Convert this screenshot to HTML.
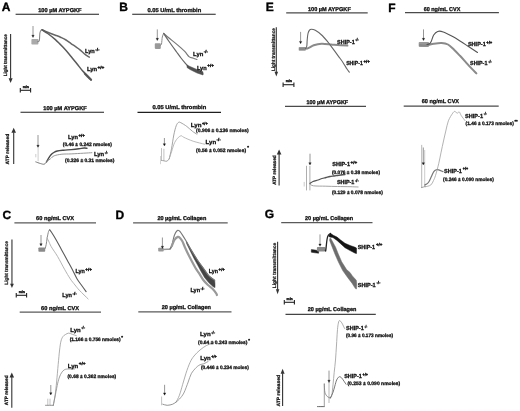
<!DOCTYPE html>
<html><head><meta charset="utf-8"><style>
html,body{margin:0;padding:0;background:#fff;width:520px;height:411px;overflow:hidden}
svg{display:block;font-family:"Liberation Sans", sans-serif;text-rendering:geometricPrecision;filter:grayscale(1) blur(0.3px)}
</style></head><body>
<svg width="520" height="411" viewBox="0 0 520 411">
<rect width="520" height="411" fill="#fff"/>
<rect x="31.4" y="39" width="7.0" height="5.5" rx="0.8" fill="#aaa"/>
<path d="M37.50,41.80 C37.80,41.58 38.90,41.97 39.30,40.50 C39.70,39.03 39.62,34.70 39.90,33.00 C40.18,31.30 40.63,30.83 41.00,30.30 C41.37,29.77 41.92,29.88 42.10,29.80" stroke="#888" stroke-width="1.1" fill="none" stroke-linejoin="round" stroke-linecap="round"/>
<path d="M42.10,29.80 C43.03,30.20 45.48,31.30 47.70,32.20 C49.92,33.10 53.18,34.32 55.40,35.20 C57.62,36.08 59.23,36.70 61.00,37.50 C62.77,38.30 64.33,38.98 66.00,40.00 C67.67,41.02 69.42,42.50 71.00,43.60 C72.58,44.70 74.00,45.57 75.50,46.60 C77.00,47.63 78.50,48.57 80.00,49.80 C81.50,51.03 82.95,52.77 84.50,54.00 C86.05,55.23 88.50,56.67 89.30,57.20" stroke="#666" stroke-width="1.5" fill="none" stroke-linejoin="round" stroke-linecap="round"/>
<path d="M42.10,29.80 C43.03,30.42 45.48,31.87 47.70,33.50 C49.92,35.13 52.83,37.30 55.40,39.60 C57.97,41.90 60.80,44.87 63.10,47.30 C65.40,49.73 66.93,51.50 69.20,54.20 C71.47,56.90 74.48,60.73 76.70,63.50 C78.92,66.27 80.88,68.93 82.50,70.80 C84.12,72.67 84.93,73.17 86.40,74.70 C87.87,76.23 90.48,79.12 91.30,80.00" stroke="#5a5a5a" stroke-width="1.5" fill="none" stroke-linejoin="round" stroke-linecap="round"/>
<path d="M84.50,72.20 L88.00,75.60 L91.80,79.30 L91.00,80.80 L88.00,78.20 L84.00,74.00 Z" fill="#555" stroke="#555" stroke-width="0.5" stroke-linejoin="round"/>
<rect x="154.8" y="43.3" width="6.0" height="5.600000000000001" rx="0.8" fill="#999"/>
<path d="M160.00,45.50 C160.25,45.25 161.12,45.42 161.50,44.00 C161.88,42.58 161.93,38.77 162.30,37.00 C162.67,35.23 163.47,34.00 163.70,33.40" stroke="#888" stroke-width="1.0" fill="none" stroke-linejoin="round" stroke-linecap="round"/>
<path d="M163.70,33.40 C164.53,34.13 166.55,36.02 168.70,37.80 C170.85,39.58 173.97,41.87 176.60,44.10 C179.23,46.33 182.38,49.07 184.50,51.20 C186.62,53.33 187.80,55.73 189.30,56.90 C190.80,58.07 192.23,57.77 193.50,58.20 C194.77,58.63 196.33,59.28 196.90,59.50" stroke="#777" stroke-width="1.2" fill="none" stroke-linejoin="round" stroke-linecap="round"/>
<path d="M163.70,33.40 C164.53,34.67 166.55,37.90 168.70,41.00 C170.85,44.10 174.55,49.17 176.60,52.00 C178.65,54.83 179.60,56.18 181.00,58.00 C182.40,59.82 183.62,61.30 185.00,62.90 C186.38,64.50 187.88,66.40 189.30,67.60 C190.72,68.80 192.08,69.47 193.50,70.10 C194.92,70.73 196.23,70.77 197.80,71.40 C199.37,72.03 202.05,73.48 202.90,73.90" stroke="#666" stroke-width="1.2" fill="none" stroke-linejoin="round" stroke-linecap="round"/>
<path d="M187.00,65.00 L190.00,66.50 L197.00,69.50 L203.00,71.80 L203.00,75.00 L197.00,73.00 L190.00,69.50 L187.00,67.50 Z" fill="#505050" stroke="#505050" stroke-width="0.5" stroke-linejoin="round"/>
<rect x="298.7" y="46.9" width="7.100000000000023" height="3.8999999999999986" rx="0.8" fill="#999"/>
<path d="M300.00,49.00 C301.23,48.92 305.12,49.12 307.40,48.50 C309.68,47.88 311.33,46.10 313.70,45.30 C316.07,44.50 318.70,43.83 321.60,43.70 C324.50,43.57 328.98,44.32 331.10,44.50 C333.22,44.68 331.58,44.62 334.30,44.80 C337.02,44.98 345.22,45.47 347.40,45.60" stroke="#8a8a8a" stroke-width="2.0" fill="none" stroke-linejoin="round" stroke-linecap="round"/>
<path d="M305.50,48.50 C305.72,48.08 306.52,47.42 306.80,46.00 C307.08,44.58 307.00,42.08 307.20,40.00 C307.40,37.92 307.62,35.13 308.00,33.50 C308.38,31.87 308.95,30.92 309.50,30.20 C310.05,29.48 310.33,29.18 311.30,29.20 C312.27,29.22 313.58,29.33 315.30,30.30 C317.02,31.27 319.48,33.03 321.60,35.00 C323.72,36.97 326.43,40.25 328.00,42.10 C329.57,43.95 329.25,43.73 331.00,46.10 C332.75,48.47 336.53,53.62 338.50,56.30 C340.47,58.98 341.38,60.08 342.80,62.20 C344.22,64.32 345.92,67.33 347.00,69.00 C348.08,70.67 348.92,71.67 349.30,72.20" stroke="#666" stroke-width="1.1" fill="none" stroke-linejoin="round" stroke-linecap="round"/>
<rect x="418.7" y="42.1" width="10.300000000000011" height="4.799999999999997" rx="0.8" fill="#999"/>
<path d="M420.00,45.00 C421.00,45.08 423.72,45.72 426.00,45.50 C428.28,45.28 431.10,44.13 433.70,43.70 C436.30,43.27 439.22,42.77 441.60,42.90 C443.98,43.03 445.88,43.32 448.00,44.50 C450.12,45.68 452.30,48.12 454.30,50.00 C456.30,51.88 458.13,53.83 460.00,55.80 C461.87,57.77 463.67,59.78 465.50,61.80 C467.33,63.82 469.18,65.97 471.00,67.90 C472.82,69.83 475.50,72.48 476.40,73.40" stroke="#8a8a8a" stroke-width="2.0" fill="none" stroke-linejoin="round" stroke-linecap="round"/>
<path d="M427.00,44.50 C427.42,44.38 428.78,44.33 429.50,43.80 C430.22,43.27 430.60,42.77 431.30,41.30 C432.00,39.83 432.63,36.65 433.70,35.00 C434.77,33.35 436.12,31.92 437.70,31.40 C439.28,30.88 440.70,31.03 443.20,31.90 C445.70,32.77 449.90,35.08 452.70,36.60 C455.50,38.12 457.50,39.43 460.00,41.00 C462.50,42.57 464.78,44.08 467.70,46.00 C470.62,47.92 475.87,51.42 477.50,52.50" stroke="#555" stroke-width="1.1" fill="none" stroke-linejoin="round" stroke-linecap="round"/>
<line x1="38.1" y1="148" x2="38.1" y2="161.2" stroke="#aaa" stroke-width="0.6"/>
<line x1="35.8" y1="154" x2="35.8" y2="157.3" stroke="#aaa" stroke-width="0.6"/>
<path d="M35.80,161.90 C36.57,162.17 39.00,163.12 40.40,163.50 C41.80,163.88 43.18,164.47 44.20,164.20 C45.22,163.93 46.12,162.28 46.50,161.90" stroke="#777" stroke-width="1.0" fill="none" stroke-linejoin="round" stroke-linecap="round"/>
<path d="M46.50,161.90 C46.83,161.30 47.75,159.48 48.50,158.30 C49.25,157.12 50.12,155.77 51.00,154.80 C51.88,153.83 52.75,153.13 53.80,152.50 C54.85,151.87 55.68,151.38 57.30,151.00 C58.92,150.62 61.18,150.43 63.50,150.20 C65.82,149.97 68.65,149.83 71.20,149.60 C73.75,149.37 76.63,149.07 78.80,148.80 C80.97,148.53 82.85,148.08 84.20,148.00 C85.55,147.92 86.45,148.25 86.90,148.30" stroke="#4a4a4a" stroke-width="1.4" fill="none" stroke-linejoin="round" stroke-linecap="round"/>
<path d="M46.50,161.90 C47.15,161.38 49.12,159.82 50.40,158.80 C51.68,157.78 52.28,156.57 54.20,155.80 C56.12,155.03 59.07,154.52 61.90,154.20 C64.73,153.88 67.60,154.07 71.20,153.90 C74.80,153.73 80.05,153.40 83.50,153.20 C86.95,153.00 90.50,152.78 91.90,152.70" stroke="#999" stroke-width="1.0" fill="none" stroke-linejoin="round" stroke-linecap="round"/>
<line x1="161.5" y1="148.1" x2="161.5" y2="160.4" stroke="#999" stroke-width="0.6"/>
<line x1="163.9" y1="148.8" x2="163.9" y2="160.4" stroke="#999" stroke-width="0.6"/>
<line x1="160.5" y1="156" x2="160.5" y2="164.2" stroke="#aaa" stroke-width="0.5"/>
<path d="M161.50,160.40 C161.92,160.47 163.10,160.67 164.00,160.80 C164.90,160.93 166.03,161.53 166.90,161.20 C167.77,160.87 168.82,159.20 169.20,158.80" stroke="#888" stroke-width="0.8" fill="none" stroke-linejoin="round" stroke-linecap="round"/>
<path d="M169.20,158.80 C169.58,157.13 170.73,152.77 171.50,148.80 C172.27,144.83 173.02,138.83 173.80,135.00 C174.58,131.17 175.42,127.90 176.20,125.80 C176.98,123.70 177.73,122.92 178.50,122.40 C179.27,121.88 179.40,122.02 180.80,122.70 C182.20,123.38 184.98,125.08 186.90,126.50 C188.82,127.92 190.63,129.92 192.30,131.20 C193.97,132.48 196.13,133.70 196.90,134.20" stroke="#999" stroke-width="0.9" fill="none" stroke-linejoin="round" stroke-linecap="round"/>
<path d="M169.20,158.80 C169.58,157.65 170.60,154.58 171.50,151.90 C172.40,149.22 173.43,145.13 174.60,142.70 C175.77,140.27 177.35,138.45 178.50,137.30 C179.65,136.15 180.62,135.80 181.50,135.80 C182.38,135.80 181.87,136.40 183.80,137.30 C185.73,138.20 189.63,140.05 193.10,141.20 C196.57,142.35 202.68,143.70 204.60,144.20" stroke="#aaa" stroke-width="0.8" fill="none" stroke-linejoin="round" stroke-linecap="round"/>
<line x1="306.5" y1="165.8" x2="306.5" y2="190.4" stroke="#999" stroke-width="0.8"/>
<line x1="309.9" y1="165.8" x2="309.9" y2="190.4" stroke="#999" stroke-width="0.8"/>
<line x1="304.2" y1="181.9" x2="304.2" y2="186.5" stroke="#aaa" stroke-width="0.6"/>
<path d="M309.90,183.50 C310.42,183.17 311.65,182.08 313.00,181.50 C314.35,180.92 316.50,180.50 318.00,180.00 C319.50,179.50 320.67,178.92 322.00,178.50 C323.33,178.08 324.67,177.83 326.00,177.50 C327.33,177.17 328.67,176.75 330.00,176.50 C331.33,176.25 332.75,176.17 334.00,176.00 C335.25,175.83 336.33,175.67 337.50,175.50 C338.67,175.33 339.75,175.17 341.00,175.00 C342.25,174.83 344.33,174.58 345.00,174.50" stroke="#555" stroke-width="1.3" fill="none" stroke-linejoin="round" stroke-linecap="round"/>
<path d="M309.90,184.00 C310.50,184.30 310.85,185.43 313.50,185.80 C316.15,186.17 321.80,186.08 325.80,186.20 C329.80,186.32 333.47,186.42 337.50,186.50 C341.53,186.58 346.57,186.62 350.00,186.70 C353.43,186.78 356.75,186.95 358.10,187.00" stroke="#999" stroke-width="0.9" fill="none" stroke-linejoin="round" stroke-linecap="round"/>
<line x1="421.7" y1="144.9" x2="421.7" y2="188" stroke="#999" stroke-width="0.7"/>
<line x1="424.7" y1="150" x2="424.7" y2="187" stroke="#aaa" stroke-width="0.6"/>
<path d="M421.70,187.50 C422.30,187.33 424.70,186.67 425.30,186.50" stroke="#888" stroke-width="0.8" fill="none" stroke-linejoin="round" stroke-linecap="round"/>
<path d="M424.80,185.00 C425.40,184.58 427.30,183.92 428.40,182.50 C429.50,181.08 430.50,178.32 431.40,176.50 C432.30,174.68 432.98,172.72 433.80,171.60 C434.62,170.48 435.48,170.10 436.30,169.80 C437.12,169.50 437.58,169.50 438.70,169.80 C439.82,170.10 442.28,171.30 443.00,171.60" stroke="#777" stroke-width="1.2" fill="none" stroke-linejoin="round" stroke-linecap="round"/>
<path d="M425.30,186.80 C426.22,186.50 429.43,186.05 430.80,185.00 C432.17,183.95 432.72,182.08 433.50,180.50 C434.28,178.92 434.63,178.30 435.50,175.50 C436.37,172.70 437.77,167.58 438.70,163.70 C439.63,159.82 440.30,155.98 441.10,152.20 C441.90,148.42 442.72,144.53 443.50,141.00 C444.28,137.47 444.98,134.37 445.80,131.00 C446.62,127.63 447.25,123.77 448.40,120.80 C449.55,117.83 451.62,114.77 452.70,113.20 C453.78,111.63 454.17,111.40 454.90,111.40 C455.63,111.40 456.37,113.10 457.10,113.20 C457.83,113.30 458.61,111.60 459.30,112.00 C459.99,112.40 460.30,114.17 461.25,115.60 C462.20,117.03 464.38,119.77 465.00,120.60" stroke="#a0a0a0" stroke-width="0.8" fill="none" stroke-linejoin="round" stroke-linecap="round"/>
<rect x="38.4" y="247.4" width="6.800000000000004" height="4.400000000000006" rx="0.8" fill="#8a8a8a"/>
<path d="M45.20,248.40 C45.37,247.75 45.87,246.28 46.20,244.50 C46.53,242.72 46.80,239.90 47.20,237.70 C47.60,235.50 48.20,232.60 48.60,231.30 C49.00,230.00 49.43,230.13 49.60,229.90" stroke="#888" stroke-width="1.0" fill="none" stroke-linejoin="round" stroke-linecap="round"/>
<path d="M49.60,229.90 C49.92,230.30 50.40,230.62 51.50,232.30 C52.60,233.98 54.53,237.10 56.20,240.00 C57.87,242.90 59.63,246.30 61.50,249.70 C63.37,253.10 65.62,257.15 67.40,260.40 C69.18,263.65 70.58,266.12 72.20,269.20 C73.82,272.28 75.63,276.35 77.10,278.90 C78.57,281.45 79.50,282.38 81.00,284.50 C82.50,286.62 85.25,290.42 86.10,291.60" stroke="#5a5a5a" stroke-width="1.1" fill="none" stroke-linejoin="round" stroke-linecap="round"/>
<path d="M47.00,238.00 C47.27,238.50 47.88,239.53 48.60,241.00 C49.32,242.47 49.80,244.22 51.30,246.80 C52.80,249.38 55.40,252.77 57.60,256.50 C59.80,260.23 62.38,265.47 64.50,269.20 C66.62,272.93 68.55,276.27 70.30,278.90 C72.05,281.53 73.50,283.12 75.00,285.00 C76.50,286.88 77.12,287.88 79.30,290.20 C81.48,292.52 86.63,297.45 88.10,298.90" stroke="#aaa" stroke-width="0.9" fill="none" stroke-linejoin="round" stroke-linecap="round"/>
<rect x="158.2" y="247.8" width="5.5" height="3.6999999999999886" rx="0.8" fill="#999"/>
<path d="M162.00,249.50 C162.83,249.47 165.65,249.40 167.00,249.30 C168.35,249.20 169.30,249.53 170.10,248.90 C170.90,248.27 171.52,246.07 171.80,245.50" stroke="#999" stroke-width="1.5" fill="none" stroke-linejoin="round" stroke-linecap="round"/>
<path d="M186.30,241.30 L191.30,250.10 L197.60,260.20 L204.00,269.10 L208.90,275.80 L214.70,280.20 L215.00,284.00 L215.00,287.60 L213.20,286.80 L208.90,282.80 L204.50,277.50 L200.80,271.00 L197.60,265.00 L194.00,258.50 L190.00,250.50 L186.60,243.50 Z" fill="#444" stroke="#444" stroke-width="0.5" stroke-linejoin="round"/>
<path d="M170.10,248.90 C170.38,248.33 171.08,247.78 171.80,245.50 C172.52,243.22 173.48,237.70 174.40,235.20 C175.32,232.70 176.45,231.20 177.30,230.50 C178.15,229.80 178.72,230.35 179.50,231.00 C180.28,231.65 180.87,232.68 182.00,234.40 C183.13,236.12 184.75,238.68 186.30,241.30 C187.85,243.92 189.42,246.95 191.30,250.10 C193.18,253.25 195.48,257.03 197.60,260.20 C199.72,263.37 202.12,266.50 204.00,269.10 C205.88,271.70 207.12,273.95 208.90,275.80 C210.68,277.65 213.73,279.47 214.70,280.20" stroke="#777" stroke-width="1.1" fill="none" stroke-linejoin="round" stroke-linecap="round"/>
<path d="M171.80,246.00 C172.23,245.00 173.40,241.52 174.40,240.00 C175.40,238.48 176.87,237.23 177.80,236.90 C178.73,236.57 179.22,237.23 180.00,238.00 C180.78,238.77 181.67,239.92 182.50,241.50 C183.33,243.08 183.83,244.95 185.00,247.50 C186.17,250.05 187.75,253.38 189.50,256.80 C191.25,260.22 193.92,265.27 195.50,268.00 C197.08,270.73 197.70,271.20 199.00,273.20 C200.30,275.20 201.80,278.03 203.30,280.00 C204.80,281.97 206.47,283.53 208.00,285.00 C209.53,286.47 211.13,287.42 212.50,288.80 C213.87,290.18 215.47,292.27 216.20,293.30 C216.93,294.33 216.78,294.72 216.90,295.00" stroke="#999" stroke-width="2.2" fill="none" stroke-linejoin="round" stroke-linecap="round"/>
<path d="M311.30,249.60 L315.00,250.00 L318.60,250.80 L318.60,253.20 L315.00,252.80 L311.30,252.20 Z" fill="#1a1a1a" stroke="#1a1a1a" stroke-width="0.5" stroke-linejoin="round"/>
<rect x="316.9" y="247.1" width="8.5" height="4.300000000000011" rx="0.8" fill="#8a8a8a"/>
<path d="M325.40,250.20 C325.47,250.20 325.52,252.07 325.80,250.20 C326.08,248.33 326.65,241.53 327.10,239.00 C327.55,236.47 327.95,235.92 328.50,235.00 C329.05,234.08 330.08,233.75 330.40,233.50" stroke="#222" stroke-width="1.3" fill="none" stroke-linejoin="round" stroke-linecap="round"/>
<path d="M328.80,236.00 L330.40,233.30 L333.30,235.30 L337.00,237.10 L340.60,240.00 L345.00,243.30 L350.10,245.50 L355.20,247.30 L356.50,248.10 L356.50,253.50 L355.20,253.20 L350.10,250.60 L345.00,247.70 L340.60,243.70 L337.00,240.40 L332.90,237.50 L329.50,237.00 Z" fill="#151515" stroke="#151515" stroke-width="0.5" stroke-linejoin="round"/>
<path d="M330.70,238.20 L335.50,247.00 L338.30,254.00 L341.70,261.80 L346.60,269.60 L350.00,272.50 L352.40,275.90 L356.30,280.30 L356.80,284.00 L356.50,289.00 L355.40,288.60 L352.00,283.20 L347.60,277.40 L342.70,270.60 L338.30,261.80 L334.90,254.00 L333.30,249.90 L329.60,240.40 L329.80,238.50 Z" fill="#6e6e6e" stroke="#6e6e6e" stroke-width="0.5" stroke-linejoin="round"/>
<line x1="47.8" y1="398.7" x2="47.8" y2="405.3" stroke="#999" stroke-width="0.6"/>
<line x1="50" y1="398.7" x2="50" y2="405.3" stroke="#999" stroke-width="0.6"/>
<path d="M45.50,405.30 C46.80,405.30 52.00,405.30 53.30,405.30" stroke="#777" stroke-width="0.8" fill="none" stroke-linejoin="round" stroke-linecap="round"/>
<path d="M53.30,405.30 C53.60,403.63 54.55,399.18 55.10,395.30 C55.65,391.42 56.08,387.17 56.60,382.00 C57.12,376.83 57.70,369.63 58.20,364.30 C58.70,358.97 59.13,353.88 59.60,350.00 C60.07,346.12 60.43,343.25 61.00,341.00 C61.57,338.75 62.25,337.58 63.00,336.50 C63.75,335.42 64.54,335.07 65.50,334.50 C66.46,333.93 67.58,333.12 68.75,333.10 C69.92,333.08 71.25,333.98 72.50,334.40 C73.75,334.82 75.62,335.40 76.25,335.60" stroke="#999" stroke-width="0.8" fill="none" stroke-linejoin="round" stroke-linecap="round"/>
<path d="M53.30,405.30 C53.67,403.45 54.77,397.88 55.50,394.20 C56.23,390.52 57.03,386.07 57.70,383.20 C58.37,380.33 58.87,378.73 59.50,377.00 C60.13,375.27 60.75,373.97 61.50,372.80 C62.25,371.63 63.00,370.63 64.00,370.00 C65.00,369.37 65.77,369.17 67.50,369.00 C69.23,368.83 73.25,369.00 74.40,369.00" stroke="#888" stroke-width="0.8" fill="none" stroke-linejoin="round" stroke-linecap="round"/>
<line x1="161.6" y1="396.5" x2="161.6" y2="405.3" stroke="#999" stroke-width="0.6"/>
<path d="M162.80,404.20 C163.53,404.38 165.55,405.30 167.20,405.30 C168.85,405.30 171.22,404.75 172.70,404.20 C174.18,403.65 175.53,402.37 176.10,402.00" stroke="#777" stroke-width="0.8" fill="none" stroke-linejoin="round" stroke-linecap="round"/>
<path d="M176.10,402.00 C176.65,400.88 178.30,398.25 179.40,395.30 C180.50,392.35 181.60,387.98 182.70,384.30 C183.80,380.62 184.78,376.83 186.00,373.20 C187.22,369.57 188.67,365.37 190.00,362.50 C191.33,359.63 192.33,358.08 194.00,356.00 C195.67,353.92 197.96,351.73 200.00,350.00 C202.04,348.27 204.38,346.67 206.25,345.60 C208.12,344.53 210.01,344.10 211.25,343.60 C212.49,343.10 213.29,342.77 213.70,342.60" stroke="#999" stroke-width="0.8" fill="none" stroke-linejoin="round" stroke-linecap="round"/>
<path d="M176.10,402.00 C176.67,401.50 178.22,400.48 179.50,399.00 C180.78,397.52 182.35,395.93 183.80,393.10 C185.25,390.27 186.96,385.23 188.20,382.00 C189.44,378.77 189.91,376.17 191.25,373.75 C192.59,371.33 194.79,369.00 196.25,367.50 C197.71,366.00 198.75,365.38 200.00,364.75 C201.25,364.12 202.40,364.29 203.75,363.75 C205.10,363.21 207.38,361.88 208.10,361.50" stroke="#888" stroke-width="0.8" fill="none" stroke-linejoin="round" stroke-linecap="round"/>
<path d="M317.50,406.60 C318.63,406.60 323.17,406.60 324.30,406.60" stroke="#555" stroke-width="0.9" fill="none" stroke-linejoin="round" stroke-linecap="round"/>
<line x1="324.3" y1="383.6" x2="324.3" y2="406.6" stroke="#888" stroke-width="0.8"/>
<line x1="329" y1="382" x2="329" y2="403" stroke="#999" stroke-width="0.7"/>
<path d="M324.30,384.00 C324.40,385.38 324.38,390.20 324.90,392.30 C325.42,394.40 326.50,395.67 327.40,396.60 C328.30,397.53 329.82,397.68 330.30,397.90" stroke="#888" stroke-width="0.9" fill="none" stroke-linejoin="round" stroke-linecap="round"/>
<path d="M330.30,397.90 C330.53,397.58 331.25,398.18 331.70,396.00 C332.15,393.82 332.58,388.73 333.00,384.80 C333.42,380.87 333.78,376.53 334.20,372.40 C334.62,368.27 335.12,364.57 335.50,360.00 C335.88,355.43 336.20,349.67 336.50,345.00 C336.80,340.33 337.03,335.42 337.30,332.00 C337.57,328.58 337.75,326.42 338.10,324.50 C338.45,322.58 338.77,320.75 339.40,320.50 C340.03,320.25 341.17,321.96 341.90,323.00 C342.62,324.04 343.27,325.82 343.75,326.75 C344.23,327.68 344.58,328.29 344.75,328.60" stroke="#999" stroke-width="0.8" fill="none" stroke-linejoin="round" stroke-linecap="round"/>
<path d="M330.30,397.90 C330.75,396.97 332.25,394.27 333.00,392.30 C333.75,390.33 334.18,388.17 334.80,386.10 C335.42,384.03 335.97,381.45 336.70,379.90 C337.43,378.35 338.37,377.12 339.20,376.80 C340.03,376.48 340.57,376.77 341.70,378.00 C342.83,379.23 345.28,383.17 346.00,384.20" stroke="#666" stroke-width="0.9" fill="none" stroke-linejoin="round" stroke-linecap="round"/>
<text x="1.8" y="10.5" font-size="12.0" font-weight="bold" fill="#000" text-anchor="start" stroke="#000" stroke-width="0.35">A</text>
<text x="119.2" y="10.5" font-size="12.0" font-weight="bold" fill="#000" text-anchor="start" stroke="#000" stroke-width="0.35">B</text>
<text x="265.8" y="10.7" font-size="12.0" font-weight="bold" fill="#000" text-anchor="start" stroke="#000" stroke-width="0.35">E</text>
<text x="388.2" y="11.6" font-size="12.0" font-weight="bold" fill="#000" text-anchor="start" stroke="#000" stroke-width="0.35">F</text>
<text x="2.6" y="218.7" font-size="12.0" font-weight="bold" fill="#000" text-anchor="start" stroke="#000" stroke-width="0.35">C</text>
<text x="115.4" y="218.6" font-size="12.0" font-weight="bold" fill="#000" text-anchor="start" stroke="#000" stroke-width="0.35">D</text>
<text x="264.7" y="217.5" font-size="12.0" font-weight="bold" fill="#000" text-anchor="start" stroke="#000" stroke-width="0.35">G</text>
<text x="38.2" y="11.8" font-size="5.6" font-weight="bold" fill="#111" text-anchor="start" textLength="43.4" lengthAdjust="spacingAndGlyphs" stroke="#111" stroke-width="0.3">100 µM AYPGKF</text>
<line x1="15.6" y1="14.3" x2="99" y2="14.3" stroke="#1e1e1e" stroke-width="1.1"/>
<text x="147.4" y="11.8" font-size="5.6" font-weight="bold" fill="#111" text-anchor="start" textLength="53.8" lengthAdjust="spacingAndGlyphs" stroke="#111" stroke-width="0.3">0.05 U/mL thrombin</text>
<line x1="132.2" y1="14.2" x2="215.7" y2="14.2" stroke="#1e1e1e" stroke-width="1.1"/>
<text x="308" y="10.5" font-size="5.6" font-weight="bold" fill="#111" text-anchor="start" textLength="42.8" lengthAdjust="spacingAndGlyphs" stroke="#111" stroke-width="0.3">100 µM AYPGKF</text>
<line x1="286.2" y1="12.9" x2="367.7" y2="12.9" stroke="#4a4a4a" stroke-width="1.3"/>
<text x="423.7" y="10.6" font-size="5.6" font-weight="bold" fill="#111" text-anchor="start" textLength="36.6" lengthAdjust="spacingAndGlyphs" stroke="#111" stroke-width="0.3">60 ng/mL CVX</text>
<line x1="405" y1="12.7" x2="498.9" y2="12.7" stroke="#4a4a4a" stroke-width="1.3"/>
<text x="43.3" y="109.5" font-size="5.6" font-weight="bold" fill="#111" text-anchor="start" textLength="43.5" lengthAdjust="spacingAndGlyphs" stroke="#111" stroke-width="0.3">100 µM AYPGKF</text>
<line x1="20.5" y1="112.2" x2="104" y2="112.2" stroke="#1e1e1e" stroke-width="1.1"/>
<text x="152.4" y="109.2" font-size="5.6" font-weight="bold" fill="#111" text-anchor="start" textLength="53.8" lengthAdjust="spacingAndGlyphs" stroke="#111" stroke-width="0.3">0.05 U/mL thrombin</text>
<line x1="137.5" y1="112.4" x2="221" y2="112.4" stroke="#1e1e1e" stroke-width="1.1"/>
<text x="306.5" y="103.7" font-size="5.6" font-weight="bold" fill="#111" text-anchor="start" textLength="41.7" lengthAdjust="spacingAndGlyphs" stroke="#111" stroke-width="0.3">100 µM AYPGKF</text>
<line x1="285" y1="106.4" x2="366" y2="106.4" stroke="#4a4a4a" stroke-width="1.3"/>
<text x="421.7" y="103.3" font-size="5.6" font-weight="bold" fill="#111" text-anchor="start" textLength="37.4" lengthAdjust="spacingAndGlyphs" stroke="#111" stroke-width="0.3">60 ng/mL CVX</text>
<line x1="403.7" y1="106.1" x2="498.7" y2="106.1" stroke="#4a4a4a" stroke-width="1.3"/>
<text x="36.1" y="220.3" font-size="5.6" font-weight="bold" fill="#111" text-anchor="start" textLength="38" lengthAdjust="spacingAndGlyphs" stroke="#111" stroke-width="0.3">60 ng/mL CVX</text>
<line x1="14.4" y1="222.8" x2="96" y2="222.8" stroke="#5a5a5a" stroke-width="1.3"/>
<text x="157.4" y="220.1" font-size="5.6" font-weight="bold" fill="#111" text-anchor="start" textLength="48.9" lengthAdjust="spacingAndGlyphs" stroke="#111" stroke-width="0.3">20 µg/mL Collagen</text>
<line x1="133.1" y1="222.8" x2="227.7" y2="222.8" stroke="#5a5a5a" stroke-width="1.3"/>
<text x="305.1" y="219.6" font-size="5.6" font-weight="bold" fill="#111" text-anchor="start" textLength="48.1" lengthAdjust="spacingAndGlyphs" stroke="#111" stroke-width="0.3">20 µg/mL Collagen</text>
<line x1="281.2" y1="222.6" x2="372.5" y2="222.6" stroke="#5a5a5a" stroke-width="1.3"/>
<text x="41.1" y="309.8" font-size="5.6" font-weight="bold" fill="#111" text-anchor="start" textLength="38" lengthAdjust="spacingAndGlyphs" stroke="#111" stroke-width="0.3">60 ng/mL CVX</text>
<line x1="19.7" y1="312.1" x2="101" y2="312.1" stroke="#5a5a5a" stroke-width="1.3"/>
<text x="161.7" y="309.4" font-size="5.6" font-weight="bold" fill="#111" text-anchor="start" textLength="49.2" lengthAdjust="spacingAndGlyphs" stroke="#111" stroke-width="0.3">20 µg/mL Collagen</text>
<line x1="138.3" y1="311.8" x2="231.5" y2="311.8" stroke="#5a5a5a" stroke-width="1.3"/>
<text x="307.8" y="311.2" font-size="5.6" font-weight="bold" fill="#111" text-anchor="start" textLength="48.5" lengthAdjust="spacingAndGlyphs" stroke="#111" stroke-width="0.3">20 µg/mL Collagen</text>
<line x1="285.5" y1="314.4" x2="375.8" y2="314.4" stroke="#444" stroke-width="1.3"/>
<line x1="10.6" y1="34" x2="10.6" y2="78.7" stroke="#333" stroke-width="1.1"/>
<path d="M8.6,78.2 L12.6,78.2 L10.6,83 Z" fill="#333"/>
<text transform="translate(6.7,55.3) rotate(-90)" font-size="4.8" font-weight="bold" fill="#222" stroke="#222" stroke-width="0.25" text-anchor="middle" textLength="42" lengthAdjust="spacingAndGlyphs">Light transmittance</text>
<line x1="13.7" y1="132.2" x2="13.7" y2="164" stroke="#333" stroke-width="1.1"/>
<path d="M11.399999999999999,132.7 L16.0,132.7 L13.7,127.7 Z" fill="#333"/>
<text transform="translate(9.3,149.1) rotate(-90)" font-size="4.8" font-weight="bold" fill="#111" stroke="#111" stroke-width="0.25" text-anchor="middle" textLength="30.6" lengthAdjust="spacingAndGlyphs">ATP released</text>
<line x1="276.3" y1="27.3" x2="276.3" y2="72.2" stroke="#333" stroke-width="1.1"/>
<path d="M274.5,71.7 L278.1,71.7 L276.3,76.5 Z" fill="#333"/>
<text transform="translate(274.5,49.6) rotate(-90)" font-size="4.8" font-weight="bold" fill="#222" stroke="#222" stroke-width="0.25" text-anchor="middle" textLength="42.8" lengthAdjust="spacingAndGlyphs">Light transmittance</text>
<line x1="279.1" y1="153.9" x2="279.1" y2="185.5" stroke="#333" stroke-width="1.1"/>
<path d="M276.8,154.4 L281.40000000000003,154.4 L279.1,149.4 Z" fill="#333"/>
<text transform="translate(276,170.1) rotate(-90)" font-size="4.8" font-weight="bold" fill="#111" stroke="#111" stroke-width="0.25" text-anchor="middle" textLength="29.5" lengthAdjust="spacingAndGlyphs">ATP released</text>
<line x1="11.95" y1="239.4" x2="11.95" y2="284.2" stroke="#333" stroke-width="1.1"/>
<path d="M10.049999999999999,283.7 L13.85,283.7 L11.95,288 Z" fill="#333"/>
<text transform="translate(7.7,262.9) rotate(-90)" font-size="4.8" font-weight="bold" fill="#222" stroke="#222" stroke-width="0.25" text-anchor="middle" textLength="43.5" lengthAdjust="spacingAndGlyphs">Light transmittance</text>
<line x1="11.8" y1="376.9" x2="11.8" y2="407.7" stroke="#333" stroke-width="1.1"/>
<path d="M9.5,377.4 L14.100000000000001,377.4 L11.8,372.4 Z" fill="#333"/>
<text transform="translate(8.4,390.3) rotate(-90)" font-size="4.8" font-weight="bold" fill="#111" stroke="#111" stroke-width="0.25" text-anchor="middle" textLength="29.7" lengthAdjust="spacingAndGlyphs">ATP released</text>
<line x1="277.6" y1="241.7" x2="277.6" y2="289.8" stroke="#333" stroke-width="1.1"/>
<path d="M275.90000000000003,289.3 L279.3,289.3 L277.6,294.2 Z" fill="#333"/>
<text transform="translate(275.7,265.5) rotate(-90)" font-size="4.8" font-weight="bold" fill="#222" stroke="#222" stroke-width="0.25" text-anchor="middle" textLength="45.7" lengthAdjust="spacingAndGlyphs">Light transmittance</text>
<line x1="282.6" y1="373.2" x2="282.6" y2="405.9" stroke="#333" stroke-width="1.1"/>
<path d="M280.6,373.7 L284.6,373.7 L282.6,368.7 Z" fill="#333"/>
<text transform="translate(280.2,390.7) rotate(-90)" font-size="4.8" font-weight="bold" fill="#111" stroke="#111" stroke-width="0.25" text-anchor="middle" textLength="31.6" lengthAdjust="spacingAndGlyphs">ATP released</text>
<line x1="20.3" y1="90.3" x2="30.6" y2="90.3" stroke="#222" stroke-width="1.1"/>
<line x1="20.3" y1="88.1" x2="20.3" y2="92.5" stroke="#222" stroke-width="1.1"/>
<line x1="30.6" y1="88.1" x2="30.6" y2="92.5" stroke="#222" stroke-width="1.1"/>
<text x="25.750000000000004" y="88.0" font-size="3.4" font-weight="bold" fill="#111" text-anchor="middle" textLength="6.2" lengthAdjust="spacingAndGlyphs" stroke="#111" stroke-width="0.35">min</text>
<line x1="283.1" y1="84.7" x2="293.9" y2="84.7" stroke="#222" stroke-width="1.1"/>
<line x1="283.1" y1="82.5" x2="283.1" y2="86.9" stroke="#222" stroke-width="1.1"/>
<line x1="293.9" y1="82.5" x2="293.9" y2="86.9" stroke="#222" stroke-width="1.1"/>
<text x="288.8" y="82.4" font-size="3.4" font-weight="bold" fill="#111" text-anchor="middle" textLength="6.2" lengthAdjust="spacingAndGlyphs" stroke="#111" stroke-width="0.35">min</text>
<line x1="16.25" y1="295.3" x2="26.6" y2="295.3" stroke="#222" stroke-width="1.1"/>
<line x1="16.25" y1="293.1" x2="16.25" y2="297.5" stroke="#222" stroke-width="1.1"/>
<line x1="26.6" y1="293.1" x2="26.6" y2="297.5" stroke="#222" stroke-width="1.1"/>
<text x="21.725" y="293.0" font-size="3.4" font-weight="bold" fill="#111" text-anchor="middle" textLength="6.2" lengthAdjust="spacingAndGlyphs" stroke="#111" stroke-width="0.35">min</text>
<line x1="284.3" y1="302.3" x2="294.4" y2="302.3" stroke="#222" stroke-width="1.1"/>
<line x1="284.3" y1="300.1" x2="284.3" y2="304.5" stroke="#222" stroke-width="1.1"/>
<line x1="294.4" y1="300.1" x2="294.4" y2="304.5" stroke="#222" stroke-width="1.1"/>
<text x="289.65000000000003" y="300.0" font-size="3.4" font-weight="bold" fill="#111" text-anchor="middle" textLength="6.2" lengthAdjust="spacingAndGlyphs" stroke="#111" stroke-width="0.35">min</text>
<line x1="33" y1="26" x2="33" y2="35.5" stroke="#8a8a8a" stroke-width="0.9"/>
<path d="M31.8,35.2 L34.2,35.2 L33,37.5 Z" fill="#111" stroke="#111" stroke-width="0.3" stroke-linejoin="round"/>
<line x1="157.3" y1="29.4" x2="157.3" y2="38.6" stroke="#8a8a8a" stroke-width="0.9"/>
<path d="M156.10000000000002,38.300000000000004 L158.5,38.300000000000004 L157.3,40.6 Z" fill="#111" stroke="#111" stroke-width="0.3" stroke-linejoin="round"/>
<line x1="300.6" y1="31.9" x2="300.6" y2="41.7" stroke="#8a8a8a" stroke-width="0.9"/>
<path d="M299.40000000000003,41.400000000000006 L301.8,41.400000000000006 L300.6,43.7 Z" fill="#111" stroke="#111" stroke-width="0.3" stroke-linejoin="round"/>
<line x1="423.5" y1="29.4" x2="423.5" y2="38.6" stroke="#8a8a8a" stroke-width="0.9"/>
<path d="M422.3,38.300000000000004 L424.7,38.300000000000004 L423.5,40.6 Z" fill="#111" stroke="#111" stroke-width="0.3" stroke-linejoin="round"/>
<line x1="38" y1="135" x2="38" y2="145.5" stroke="#8a8a8a" stroke-width="0.9"/>
<path d="M36.8,145.2 L39.2,145.2 L38,147.5 Z" fill="#111" stroke="#111" stroke-width="0.3" stroke-linejoin="round"/>
<line x1="164.4" y1="138" x2="164.4" y2="144.0" stroke="#8a8a8a" stroke-width="0.9"/>
<path d="M163.20000000000002,143.7 L165.6,143.7 L164.4,146 Z" fill="#111" stroke="#111" stroke-width="0.3" stroke-linejoin="round"/>
<line x1="310" y1="153.7" x2="310" y2="163.0" stroke="#8a8a8a" stroke-width="0.9"/>
<path d="M308.8,162.7 L311.2,162.7 L310,165 Z" fill="#111" stroke="#111" stroke-width="0.3" stroke-linejoin="round"/>
<line x1="423.3" y1="147.5" x2="423.3" y2="163.0" stroke="#8a8a8a" stroke-width="0.9"/>
<path d="M422.1,162.7 L424.5,162.7 L423.3,165 Z" fill="#111" stroke="#111" stroke-width="0.3" stroke-linejoin="round"/>
<line x1="41" y1="235" x2="41" y2="244.0" stroke="#8a8a8a" stroke-width="0.9"/>
<path d="M39.8,243.7 L42.2,243.7 L41,246 Z" fill="#111" stroke="#111" stroke-width="0.3" stroke-linejoin="round"/>
<line x1="162.4" y1="237.5" x2="162.4" y2="246.5" stroke="#8a8a8a" stroke-width="0.9"/>
<path d="M161.20000000000002,246.2 L163.6,246.2 L162.4,248.5 Z" fill="#111" stroke="#111" stroke-width="0.3" stroke-linejoin="round"/>
<line x1="320" y1="234.4" x2="320" y2="244.3" stroke="#8a8a8a" stroke-width="0.9"/>
<path d="M318.8,244.0 L321.2,244.0 L320,246.3 Z" fill="#111" stroke="#111" stroke-width="0.3" stroke-linejoin="round"/>
<line x1="50.8" y1="385" x2="50.8" y2="393.0" stroke="#8a8a8a" stroke-width="0.9"/>
<path d="M49.599999999999994,392.7 L52.0,392.7 L50.8,395 Z" fill="#111" stroke="#111" stroke-width="0.3" stroke-linejoin="round"/>
<line x1="164.6" y1="384.8" x2="164.6" y2="393.2" stroke="#8a8a8a" stroke-width="0.9"/>
<path d="M163.4,392.9 L165.79999999999998,392.9 L164.6,395.2 Z" fill="#111" stroke="#111" stroke-width="0.3" stroke-linejoin="round"/>
<line x1="329" y1="370.6" x2="329" y2="380.5" stroke="#8a8a8a" stroke-width="0.9"/>
<path d="M327.8,380.2 L330.2,380.2 L329,382.5 Z" fill="#111" stroke="#111" stroke-width="0.3" stroke-linejoin="round"/>
<text x="85" y="52.8" font-size="5.8" font-weight="bold" fill="#111" text-anchor="start" textLength="9.7" lengthAdjust="spacingAndGlyphs" stroke="#111" stroke-width="0.3">Lyn</text>
<text x="95.3" y="50.5" font-size="4.3" font-weight="bold" fill="#111" text-anchor="start" textLength="4.2" lengthAdjust="spacingAndGlyphs" stroke="#111" stroke-width="0.4">-/-</text>
<text x="86.9" y="70.8" font-size="5.8" font-weight="bold" fill="#111" text-anchor="start" textLength="10.2" lengthAdjust="spacingAndGlyphs" stroke="#111" stroke-width="0.3">Lyn</text>
<text x="97.5" y="68.5" font-size="4.3" font-weight="bold" fill="#111" text-anchor="start" textLength="6.9" lengthAdjust="spacingAndGlyphs" stroke="#111" stroke-width="0.4">+/+</text>
<text x="193.1" y="55.6" font-size="5.8" font-weight="bold" fill="#111" text-anchor="start" textLength="10.2" lengthAdjust="spacingAndGlyphs" stroke="#111" stroke-width="0.3">Lyn</text>
<text x="203.8" y="53.300000000000004" font-size="4.3" font-weight="bold" fill="#111" text-anchor="start" textLength="4.2" lengthAdjust="spacingAndGlyphs" stroke="#111" stroke-width="0.4">-/-</text>
<text x="196.9" y="69.7" font-size="5.8" font-weight="bold" fill="#111" text-anchor="start" textLength="9.8" lengthAdjust="spacingAndGlyphs" stroke="#111" stroke-width="0.3">Lyn</text>
<text x="207.2" y="67.4" font-size="4.3" font-weight="bold" fill="#111" text-anchor="start" textLength="6.7" lengthAdjust="spacingAndGlyphs" stroke="#111" stroke-width="0.4">+/+</text>
<text x="337" y="43.5" font-size="5.8" font-weight="bold" fill="#111" text-anchor="start" textLength="17.7" lengthAdjust="spacingAndGlyphs" stroke="#111" stroke-width="0.3">SHIP-1</text>
<text x="355.3" y="41.2" font-size="4.3" font-weight="bold" fill="#111" text-anchor="start" textLength="3.6" lengthAdjust="spacingAndGlyphs" stroke="#111" stroke-width="0.4">-/-</text>
<text x="346.2" y="65.2" font-size="5.8" font-weight="bold" fill="#111" text-anchor="start" textLength="16.6" lengthAdjust="spacingAndGlyphs" stroke="#111" stroke-width="0.3">SHIP-1</text>
<text x="363.5" y="62.900000000000006" font-size="4.3" font-weight="bold" fill="#111" text-anchor="start" textLength="6.5" lengthAdjust="spacingAndGlyphs" stroke="#111" stroke-width="0.4">+/+</text>
<text x="467.9" y="46" font-size="5.8" font-weight="bold" fill="#111" text-anchor="start" textLength="17.9" lengthAdjust="spacingAndGlyphs" stroke="#111" stroke-width="0.3">SHIP-1</text>
<text x="486.3" y="43.7" font-size="4.3" font-weight="bold" fill="#111" text-anchor="start" textLength="6.0" lengthAdjust="spacingAndGlyphs" stroke="#111" stroke-width="0.4">+/+</text>
<text x="470.1" y="65.1" font-size="5.8" font-weight="bold" fill="#111" text-anchor="start" textLength="17.3" lengthAdjust="spacingAndGlyphs" stroke="#111" stroke-width="0.3">SHIP-1</text>
<text x="488.2" y="62.8" font-size="4.3" font-weight="bold" fill="#111" text-anchor="start" textLength="3.6" lengthAdjust="spacingAndGlyphs" stroke="#111" stroke-width="0.4">-/-</text>
<text x="68.1" y="139" font-size="5.8" font-weight="bold" fill="#111" text-anchor="start" textLength="9.9" lengthAdjust="spacingAndGlyphs" stroke="#111" stroke-width="0.3">Lyn</text>
<text x="78.5" y="136.7" font-size="4.3" font-weight="bold" fill="#111" text-anchor="start" textLength="6.5" lengthAdjust="spacingAndGlyphs" stroke="#111" stroke-width="0.4">+/+</text>
<text x="62.75" y="145.8" font-size="4.9" font-weight="bold" fill="#111" text-anchor="start" textLength="49.15" lengthAdjust="spacingAndGlyphs" stroke="#111" stroke-width="0.28">(0.46 ± 0.242 nmoles)</text>
<text x="94" y="156" font-size="5.8" font-weight="bold" fill="#111" text-anchor="start" textLength="10.2" lengthAdjust="spacingAndGlyphs" stroke="#111" stroke-width="0.3">Lyn</text>
<text x="104.7" y="153.7" font-size="4.3" font-weight="bold" fill="#111" text-anchor="start" textLength="3.3" lengthAdjust="spacingAndGlyphs" stroke="#111" stroke-width="0.4">-/-</text>
<text x="65" y="161.70000000000002" font-size="4.9" font-weight="bold" fill="#111" text-anchor="start" textLength="49.4" lengthAdjust="spacingAndGlyphs" stroke="#111" stroke-width="0.28">(0.326 ± 0.31 nmoles)</text>
<text x="190.75" y="126.9" font-size="5.8" font-weight="bold" fill="#111" text-anchor="start" textLength="10.75" lengthAdjust="spacingAndGlyphs" stroke="#111" stroke-width="0.3">Lyn</text>
<text x="202" y="124.60000000000001" font-size="4.3" font-weight="bold" fill="#111" text-anchor="start" textLength="5.75" lengthAdjust="spacingAndGlyphs" stroke="#111" stroke-width="0.4">+/+</text>
<text x="196.1" y="132.3" font-size="4.9" font-weight="bold" fill="#111" text-anchor="start" textLength="52.5" lengthAdjust="spacingAndGlyphs" stroke="#111" stroke-width="0.28">(0.906 ± 0.136 nmoles)</text>
<text x="205.5" y="143.5" font-size="5.8" font-weight="bold" fill="#111" text-anchor="start" textLength="10.6" lengthAdjust="spacingAndGlyphs" stroke="#111" stroke-width="0.3">Lyn</text>
<text x="216.5" y="141.2" font-size="4.3" font-weight="bold" fill="#111" text-anchor="start" textLength="4.25" lengthAdjust="spacingAndGlyphs" stroke="#111" stroke-width="0.4">-/-</text>
<text x="196.1" y="151.65" font-size="4.9" font-weight="bold" fill="#111" text-anchor="start" textLength="50.0" lengthAdjust="spacingAndGlyphs" stroke="#111" stroke-width="0.28">(0.56 ± 0.052 nmoles)</text>
<text x="247.2" y="148.8" font-size="4.5" font-weight="bold" fill="#111" text-anchor="start" stroke="#111" stroke-width="0.28">*</text>
<text x="332.25" y="166" font-size="5.8" font-weight="bold" fill="#111" text-anchor="start" textLength="17.75" lengthAdjust="spacingAndGlyphs" stroke="#111" stroke-width="0.3">SHIP-1</text>
<text x="350.6" y="163.7" font-size="4.3" font-weight="bold" fill="#111" text-anchor="start" textLength="6.65" lengthAdjust="spacingAndGlyphs" stroke="#111" stroke-width="0.4">+/+</text>
<text x="331.9" y="173.5" font-size="4.9" font-weight="bold" fill="#111" text-anchor="start" textLength="48.1" lengthAdjust="spacingAndGlyphs" stroke="#111" stroke-width="0.28">(0.076 ± 0.38 nmoles)</text>
<text x="336.9" y="184.4" font-size="5.8" font-weight="bold" fill="#111" text-anchor="start" textLength="17.5" lengthAdjust="spacingAndGlyphs" stroke="#111" stroke-width="0.3">SHIP-1</text>
<text x="355" y="182.1" font-size="4.3" font-weight="bold" fill="#111" text-anchor="start" textLength="3.75" lengthAdjust="spacingAndGlyphs" stroke="#111" stroke-width="0.4">-/-</text>
<text x="331.9" y="194.15" font-size="4.9" font-weight="bold" fill="#111" text-anchor="start" textLength="50.85" lengthAdjust="spacingAndGlyphs" stroke="#111" stroke-width="0.28">(0.129 ± 0.078 nmoles)</text>
<text x="465" y="117.5" font-size="5.8" font-weight="bold" fill="#111" text-anchor="start" textLength="18.1" lengthAdjust="spacingAndGlyphs" stroke="#111" stroke-width="0.3">SHIP-1</text>
<text x="483.75" y="115.2" font-size="4.3" font-weight="bold" fill="#111" text-anchor="start" textLength="3.15" lengthAdjust="spacingAndGlyphs" stroke="#111" stroke-width="0.4">-/-</text>
<text x="465.6" y="125.15" font-size="4.9" font-weight="bold" fill="#111" text-anchor="start" textLength="48.15" lengthAdjust="spacingAndGlyphs" stroke="#111" stroke-width="0.28">(1.46 ± 0.173 nmoles)</text>
<text x="514.5" y="122.6" font-size="4.5" font-weight="bold" fill="#111" text-anchor="start" textLength="3.2" lengthAdjust="spacingAndGlyphs" stroke="#111" stroke-width="0.28">**</text>
<text x="444" y="172.75" font-size="5.8" font-weight="bold" fill="#111" text-anchor="start" textLength="17.9" lengthAdjust="spacingAndGlyphs" stroke="#111" stroke-width="0.3">SHIP-1</text>
<text x="462.75" y="170.45" font-size="4.3" font-weight="bold" fill="#111" text-anchor="start" textLength="5.35" lengthAdjust="spacingAndGlyphs" stroke="#111" stroke-width="0.4">+/+</text>
<text x="443.1" y="181.0" font-size="4.9" font-weight="bold" fill="#111" text-anchor="start" textLength="50.65" lengthAdjust="spacingAndGlyphs" stroke="#111" stroke-width="0.28">(0.246 ± 0.090 nmoles)</text>
<text x="75.4" y="273.1" font-size="5.8" font-weight="bold" fill="#111" text-anchor="start" textLength="9.3" lengthAdjust="spacingAndGlyphs" stroke="#111" stroke-width="0.3">Lyn</text>
<text x="85.2" y="270.8" font-size="4.3" font-weight="bold" fill="#111" text-anchor="start" textLength="6.8" lengthAdjust="spacingAndGlyphs" stroke="#111" stroke-width="0.4">+/+</text>
<text x="62.3" y="297" font-size="5.8" font-weight="bold" fill="#111" text-anchor="start" textLength="9.7" lengthAdjust="spacingAndGlyphs" stroke="#111" stroke-width="0.3">Lyn</text>
<text x="72.5" y="294.7" font-size="4.3" font-weight="bold" fill="#111" text-anchor="start" textLength="4.4" lengthAdjust="spacingAndGlyphs" stroke="#111" stroke-width="0.4">-/-</text>
<text x="208.8" y="273.1" font-size="5.8" font-weight="bold" fill="#111" text-anchor="start" textLength="9.3" lengthAdjust="spacingAndGlyphs" stroke="#111" stroke-width="0.3">Lyn</text>
<text x="218.6" y="270.8" font-size="4.3" font-weight="bold" fill="#111" text-anchor="start" textLength="6.3" lengthAdjust="spacingAndGlyphs" stroke="#111" stroke-width="0.4">+/+</text>
<text x="190.4" y="292.1" font-size="5.8" font-weight="bold" fill="#111" text-anchor="start" textLength="9.7" lengthAdjust="spacingAndGlyphs" stroke="#111" stroke-width="0.3">Lyn</text>
<text x="200.6" y="289.8" font-size="4.3" font-weight="bold" fill="#111" text-anchor="start" textLength="3.9" lengthAdjust="spacingAndGlyphs" stroke="#111" stroke-width="0.4">-/-</text>
<text x="357.7" y="248.7" font-size="5.8" font-weight="bold" fill="#111" text-anchor="start" textLength="17.4" lengthAdjust="spacingAndGlyphs" stroke="#111" stroke-width="0.3">SHIP-1</text>
<text x="376" y="246.39999999999998" font-size="4.3" font-weight="bold" fill="#111" text-anchor="start" textLength="6.4" lengthAdjust="spacingAndGlyphs" stroke="#111" stroke-width="0.4">+/+</text>
<text x="357.7" y="286.6" font-size="5.8" font-weight="bold" fill="#111" text-anchor="start" textLength="17.9" lengthAdjust="spacingAndGlyphs" stroke="#111" stroke-width="0.3">SHIP-1</text>
<text x="376.4" y="284.3" font-size="4.3" font-weight="bold" fill="#111" text-anchor="start" textLength="3.9" lengthAdjust="spacingAndGlyphs" stroke="#111" stroke-width="0.4">-/-</text>
<text x="70.25" y="331.5" font-size="5.8" font-weight="bold" fill="#111" text-anchor="start" textLength="10.35" lengthAdjust="spacingAndGlyphs" stroke="#111" stroke-width="0.3">Lyn</text>
<text x="81.2" y="329.2" font-size="4.3" font-weight="bold" fill="#111" text-anchor="start" textLength="3.8" lengthAdjust="spacingAndGlyphs" stroke="#111" stroke-width="0.4">-/-</text>
<text x="69.75" y="341.4" font-size="4.9" font-weight="bold" fill="#111" text-anchor="start" textLength="50.85" lengthAdjust="spacingAndGlyphs" stroke="#111" stroke-width="0.28">(1.166 ± 0.756 nmoles)</text>
<text x="121.2" y="338.6" font-size="4.5" font-weight="bold" fill="#111" text-anchor="start" stroke="#111" stroke-width="0.28">*</text>
<text x="67.75" y="367.5" font-size="5.8" font-weight="bold" fill="#111" text-anchor="start" textLength="10.35" lengthAdjust="spacingAndGlyphs" stroke="#111" stroke-width="0.3">Lyn</text>
<text x="78.7" y="365.2" font-size="4.3" font-weight="bold" fill="#111" text-anchor="start" textLength="6.9" lengthAdjust="spacingAndGlyphs" stroke="#111" stroke-width="0.4">+/+</text>
<text x="67.5" y="377.9" font-size="4.9" font-weight="bold" fill="#111" text-anchor="start" textLength="48.75" lengthAdjust="spacingAndGlyphs" stroke="#111" stroke-width="0.28">(0.68 ± 0.362 nmoles)</text>
<text x="200" y="336" font-size="5.8" font-weight="bold" fill="#111" text-anchor="start" textLength="10.6" lengthAdjust="spacingAndGlyphs" stroke="#111" stroke-width="0.3">Lyn</text>
<text x="211.2" y="333.7" font-size="4.3" font-weight="bold" fill="#111" text-anchor="start" textLength="3.8" lengthAdjust="spacingAndGlyphs" stroke="#111" stroke-width="0.4">-/-</text>
<text x="198.1" y="343.9" font-size="4.9" font-weight="bold" fill="#111" text-anchor="start" textLength="49.4" lengthAdjust="spacingAndGlyphs" stroke="#111" stroke-width="0.28">(0.64 ± 0.243 nmoles)</text>
<text x="248.3" y="342" font-size="4.5" font-weight="bold" fill="#111" text-anchor="start" stroke="#111" stroke-width="0.28">*</text>
<text x="200.25" y="360.25" font-size="5.8" font-weight="bold" fill="#111" text-anchor="start" textLength="10.35" lengthAdjust="spacingAndGlyphs" stroke="#111" stroke-width="0.3">Lyn</text>
<text x="211.2" y="357.95" font-size="4.3" font-weight="bold" fill="#111" text-anchor="start" textLength="5.7" lengthAdjust="spacingAndGlyphs" stroke="#111" stroke-width="0.4">+/+</text>
<text x="201" y="369.15" font-size="4.9" font-weight="bold" fill="#111" text-anchor="start" textLength="47.75" lengthAdjust="spacingAndGlyphs" stroke="#111" stroke-width="0.28">(0.446 ± 0.234 moles)</text>
<text x="346" y="329.9" font-size="5.8" font-weight="bold" fill="#111" text-anchor="start" textLength="17.75" lengthAdjust="spacingAndGlyphs" stroke="#111" stroke-width="0.3">SHIP-1</text>
<text x="364.4" y="327.59999999999997" font-size="4.3" font-weight="bold" fill="#111" text-anchor="start" textLength="2.85" lengthAdjust="spacingAndGlyphs" stroke="#111" stroke-width="0.4">-/-</text>
<text x="346" y="337.15" font-size="4.9" font-weight="bold" fill="#111" text-anchor="start" textLength="47.1" lengthAdjust="spacingAndGlyphs" stroke="#111" stroke-width="0.28">(0.96 ± 0.173 nmoles)</text>
<text x="344.2" y="377.8" font-size="5.8" font-weight="bold" fill="#111" text-anchor="start" textLength="17.7" lengthAdjust="spacingAndGlyphs" stroke="#111" stroke-width="0.3">SHIP-1</text>
<text x="362.6" y="375.5" font-size="4.3" font-weight="bold" fill="#111" text-anchor="start" textLength="5.4" lengthAdjust="spacingAndGlyphs" stroke="#111" stroke-width="0.4">+/+</text>
<text x="347.4" y="385.29999999999995" font-size="4.9" font-weight="bold" fill="#111" text-anchor="start" textLength="52.9" lengthAdjust="spacingAndGlyphs" stroke="#111" stroke-width="0.28">(0.253 ±  0.090 nmoles)</text>
</svg></body></html>
